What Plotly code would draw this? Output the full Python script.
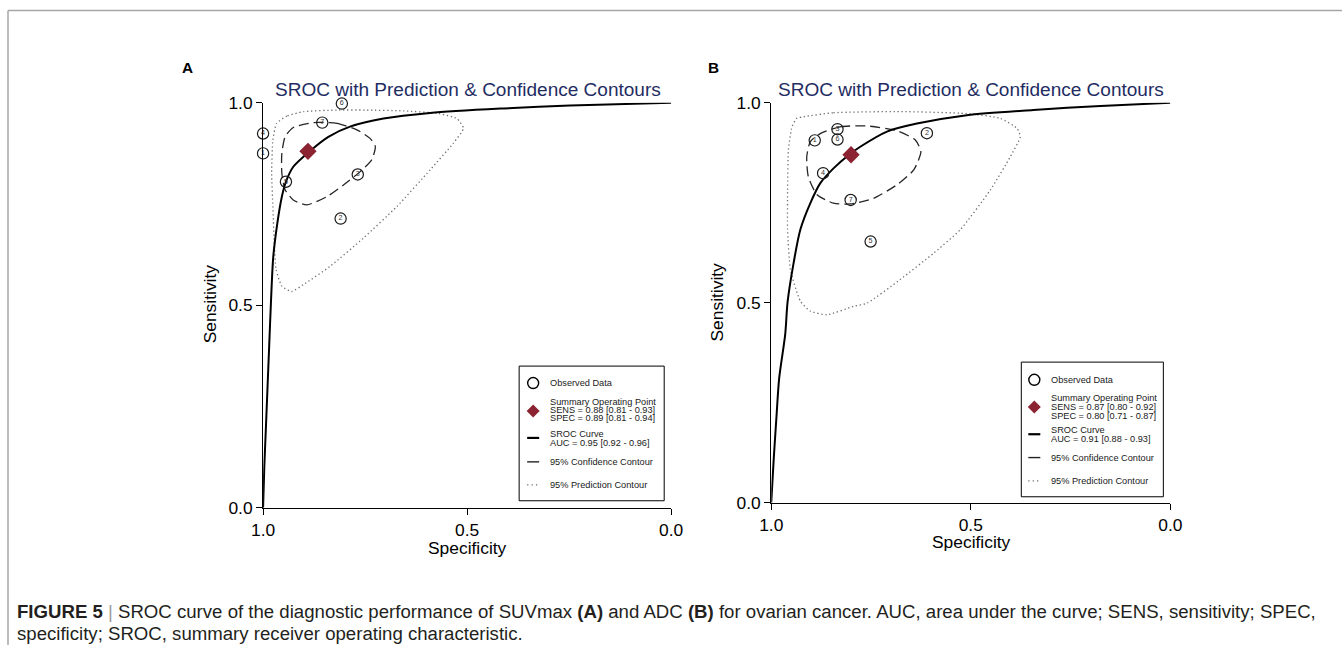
import plotly.graph_objects as go

# ---------------- DATA ----------------
# Panel A (SUVmax)
study_a = ["1", "2", "3", "4", "5", "6", "7"]
spec_a = [1.00, 0.81, 0.768, 1.00, 0.944, 0.807, 0.855]
sens_a = [0.875, 0.714, 0.823, 0.924, 0.805, 0.998, 0.951]
summary_a = {"spec": 0.89, "sens": 0.88}

sroc_a_spec = [1.0, 0.997, 0.993, 0.989, 0.985, 0.981, 0.975, 0.965, 0.954, 0.944,
               0.926, 0.885, 0.84, 0.787, 0.705, 0.591, 0.411, 0.248, 0.0]
sroc_a_sens = [0.0, 0.1, 0.2, 0.3, 0.4, 0.5, 0.62, 0.703, 0.768, 0.805,
               0.842, 0.881, 0.916, 0.941, 0.961, 0.975, 0.986, 0.993, 1.0]

conf_a_spec = [0.877, 0.819, 0.770, 0.738, 0.725, 0.734, 0.762, 0.803, 0.844, 0.893,
               0.926, 0.946, 0.954, 0.954, 0.946, 0.926, 0.877]
conf_a_sens = [0.951, 0.949, 0.933, 0.912, 0.892, 0.859, 0.830, 0.797, 0.768, 0.748,
               0.760, 0.785, 0.826, 0.875, 0.916, 0.939, 0.951]

pred_a_spec = [0.901, 0.942, 0.967, 0.976, 0.979, 0.976, 0.973, 0.968, 0.954, 0.930,
               0.901, 0.836, 0.754, 0.672, 0.591, 0.534, 0.509, 0.525, 0.574, 0.656,
               0.750, 0.819, 0.901]
pred_a_sens = [0.978, 0.967, 0.949, 0.908, 0.826, 0.744, 0.662, 0.588, 0.547, 0.534,
               0.551, 0.596, 0.666, 0.744, 0.834, 0.900, 0.937, 0.961, 0.974, 0.980,
               0.982, 0.982, 0.978]

legend_a = ["Observed Data",
            "Summary Operating Point", "SENS = 0.88 [0.81 - 0.93]", "SPEC = 0.89 [0.81 - 0.94]",
            "SROC Curve", "AUC = 0.95 [0.92 - 0.96]",
            "95% Confidence Contour", "95% Prediction Contour"]

# Panel B (ADC)
study_b = ["1", "2", "3", "4", "5", "6", "7"]
spec_b = [0.891, 0.610, 0.834, 0.870, 0.751, 0.834, 0.801]
sens_b = [0.906, 0.924, 0.934, 0.824, 0.653, 0.908, 0.757]
summary_b = {"spec": 0.80, "sens": 0.87}

sroc_b_spec = [1.0, 0.994, 0.987, 0.980, 0.965, 0.959, 0.944, 0.927, 0.902, 0.877,
               0.844, 0.805, 0.777, 0.710, 0.635, 0.510, 0.343, 0.175, 0.0]
sroc_b_sens = [0.0, 0.105, 0.213, 0.312, 0.421, 0.502, 0.599, 0.683, 0.749, 0.799,
               0.836, 0.870, 0.890, 0.928, 0.948, 0.969, 0.982, 0.992, 1.0]

conf_b_spec = [0.877, 0.827, 0.760, 0.685, 0.639, 0.625, 0.643, 0.685, 0.744, 0.802,
               0.844, 0.885, 0.907, 0.911, 0.902, 0.877]
conf_b_sens = [0.923, 0.940, 0.942, 0.930, 0.907, 0.878, 0.832, 0.795, 0.761, 0.747,
               0.749, 0.770, 0.815, 0.865, 0.903, 0.923]

pred_b_spec = [0.919, 0.844, 0.677, 0.510, 0.426, 0.384, 0.376, 0.401, 0.451, 0.526,
               0.593, 0.677, 0.760, 0.794, 0.860, 0.902, 0.927, 0.952, 0.959, 0.959,
               0.957, 0.948, 0.936, 0.919]
pred_b_sens = [0.965, 0.975, 0.978, 0.973, 0.961, 0.936, 0.915, 0.865, 0.782, 0.683,
               0.624, 0.558, 0.499, 0.491, 0.470, 0.479, 0.504, 0.583, 0.683, 0.782,
               0.882, 0.940, 0.961, 0.965]

legend_b = ["Observed Data",
            "Summary Operating Point", "SENS = 0.87 [0.80 - 0.92]", "SPEC = 0.80 [0.71 - 0.87]",
            "SROC Curve", "AUC = 0.91 [0.88 - 0.93]",
            "95% Confidence Contour", "95% Prediction Contour"]

tick_vals = [0.0, 0.5, 1.0]
tick_text = ["0.0", "0.5", "1.0"]
title_text = "SROC with Prediction & Confidence Contours"
caption_1 = ("<b>FIGURE 5</b> <span style='color:#9a9a9a'>|</span> SROC curve of the diagnostic "
             "performance of SUVmax <b>(A)</b> and ADC <b>(B)</b> for ovarian cancer. AUC, area "
             "under the curve; SENS, sensitivity; SPEC,")
caption_2 = "specificity; SROC, summary receiver operating characteristic."

# ---------------- LAYOUT HELPERS ----------------
# empirical mapping between figure pixels and the photographed page
OX, OY, SX, SY = 12.0, 8.0, 0.982, 0.972
SZ = 1 / 0.977
W, H = 1356, 657
FONT = "Liberation Sans, Arial, Helvetica, sans-serif"
NAVY = "#1f2d63"
RED = "#8b2332"


def PX(x):
    return ((x - OX) / SX) / W


def PY(y):
    return 1 - ((y - OY) / SY) / H


fig = go.Figure()


def add_panel(xa, ya, spec, sens, labels, summ, s_sp, s_se, c_sp, c_se, p_sp, p_se):
    fig.add_trace(go.Scatter(x=p_sp, y=p_se, mode="lines", xaxis=xa, yaxis=ya,
                             line=dict(color="#6e6e6e", width=1.3, dash="1.3px,2.7px",
                                       shape="spline", smoothing=0.5),
                             hoverinfo="skip", showlegend=False))
    fig.add_trace(go.Scatter(x=c_sp, y=c_se, mode="lines", xaxis=xa, yaxis=ya,
                             line=dict(color="#262626", width=1.3, dash="10px,5px",
                                       shape="spline", smoothing=0.6),
                             hoverinfo="skip", showlegend=False))
    fig.add_trace(go.Scatter(x=s_sp, y=s_se, mode="lines", xaxis=xa, yaxis=ya,
                             line=dict(color="black", width=2, shape="spline", smoothing=0.8),
                             hoverinfo="skip", showlegend=False))
    fig.add_trace(go.Scatter(x=spec, y=sens, mode="markers+text", xaxis=xa, yaxis=ya,
                             text=labels, textposition="middle center",
                             textfont=dict(size=7 * SZ, color="#333", family=FONT),
                             marker=dict(symbol="circle", size=11 * SZ,
                                         color="rgba(255,255,255,0)",
                                         line=dict(color="#1a1a1a", width=1.2)),
                             cliponaxis=False, showlegend=False))
    fig.add_trace(go.Scatter(x=[summ["spec"]], y=[summ["sens"]], mode="markers",
                             xaxis=xa, yaxis=ya,
                             marker=dict(symbol="diamond", size=13 * SZ, color=RED,
                                         line=dict(width=0)),
                             cliponaxis=False, showlegend=False))


add_panel("x", "y", spec_a, sens_a, study_a, summary_a, sroc_a_spec, sroc_a_sens,
          conf_a_spec, conf_a_sens, pred_a_spec, pred_a_sens)
add_panel("x2", "y2", spec_b, sens_b, study_b, summary_b, sroc_b_spec, sroc_b_sens,
          conf_b_spec, conf_b_sens, pred_b_spec, pred_b_sens)

axis_common = dict(showgrid=False, zeroline=False, showline=True, linecolor="black",
                   linewidth=1, ticks="outside", ticklen=6, tickwidth=1, tickcolor="black",
                   tickvals=tick_vals, ticktext=tick_text,
                   tickfont=dict(size=17 * SZ, color="black", family=FONT))

fig.update_layout(
    width=W, height=H, margin=dict(l=0, r=0, t=0, b=0),
    paper_bgcolor="white", plot_bgcolor="white", showlegend=False,
    xaxis=dict(domain=[PX(263), PX(671)], range=[1, 0], anchor="y", **axis_common),
    yaxis=dict(domain=[PY(507), PY(101)], range=[0, 1], anchor="x", **axis_common),
    xaxis2=dict(domain=[PX(771), PX(1170)], range=[1, 0], anchor="y2", **axis_common),
    yaxis2=dict(domain=[PY(502), PY(101)], range=[0, 1], anchor="x2", **axis_common),
)

annotations = []
shapes = []


def txt(x, y, s, size, color="black", xanchor="center", angle=0, font=FONT):
    annotations.append(dict(x=PX(x), y=PY(y), xref="paper", yref="paper", text=s,
                            showarrow=False, xanchor=xanchor, yanchor="middle",
                            textangle=angle,
                            font=dict(size=size * SZ, color=color, family=font)))


# frame
shapes.append(dict(type="line", xref="paper", yref="paper", x0=PX(8), y0=PY(8.5),
                   x1=1, y1=PY(8.5), line=dict(color="#a6a6a6", width=1.5)))
shapes.append(dict(type="line", xref="paper", yref="paper", x0=PX(8), y0=PY(8.5),
                   x1=PX(8), y1=0, line=dict(color="#a6a6a6", width=1.5)))

# panel labels, titles, axis titles
txt(187, 66, "<b>A</b>", 15)
txt(713, 66, "<b>B</b>", 15)
txt(468, 88, title_text, 18.6, NAVY)
txt(971, 88, title_text, 18.6, NAVY)
txt(467, 547, "Specificity", 17)
txt(971, 541, "Specificity", 17)
txt(210, 303, "Sensitivity", 17, angle=-90)
txt(717, 301, "Sensitivity", 17, angle=-90)


def legend(box, sym_x, text_x, ys, lines):
    x0, y0, x1, y1 = box
    shapes.append(dict(type="rect", xref="paper", yref="paper", x0=PX(x0), y0=PY(y0),
                       x1=PX(x1), y1=PY(y1), line=dict(color="black", width=1),
                       fillcolor="white"))
    (y_obs, y_s1, y_s2, y_s3, y_dia, y_r1, y_r2, y_rs, y_c, y_p) = ys
    shapes.append(dict(type="circle", xref="paper", yref="paper",
                       x0=PX(sym_x - 5.5), x1=PX(sym_x + 5.5),
                       y0=PY(y_obs - 5.5), y1=PY(y_obs + 5.5),
                       line=dict(color="black", width=1.4)))
    d = 6.5
    path = "M {} {} L {} {} L {} {} L {} {} Z".format(
        PX(sym_x), PY(y_dia - d), PX(sym_x + d), PY(y_dia),
        PX(sym_x), PY(y_dia + d), PX(sym_x - d), PY(y_dia))
    shapes.append(dict(type="path", xref="paper", yref="paper", path=path,
                       fillcolor=RED, line=dict(width=0)))
    shapes.append(dict(type="line", xref="paper", yref="paper", x0=PX(sym_x - 6),
                       x1=PX(sym_x + 6), y0=PY(y_rs), y1=PY(y_rs),
                       line=dict(color="black", width=2.2)))
    shapes.append(dict(type="line", xref="paper", yref="paper", x0=PX(sym_x - 6),
                       x1=PX(sym_x + 6), y0=PY(y_c), y1=PY(y_c),
                       line=dict(color="#222", width=1.4)))
    shapes.append(dict(type="line", xref="paper", yref="paper", x0=PX(sym_x - 6),
                       x1=PX(sym_x + 6), y0=PY(y_p), y1=PY(y_p),
                       line=dict(color="#666", width=1.2, dash="1.2px,3.2px")))
    y_list = [y_obs, y_s1, y_s2, y_s3, y_r1, y_r2, y_c, y_p]
    for s, yy in zip(lines, y_list):
        txt(text_x, yy, s, 9, "#1a1a1a", xanchor="left")


legend((519, 365, 664, 500), 533, 548,
       (382, 400.7, 408.7, 416.7, 410, 433.3, 442.3, 437, 461, 484), legend_a)
legend((1021, 361, 1163, 496), 1034, 1049,
       (378.7, 397.3, 406.3, 414.7, 406, 429.3, 438.3, 433.3, 456.7, 480), legend_b)

# caption
txt(14.5, 611, caption_1, 18.2, "#231f20", xanchor="left")
txt(14.5, 633, caption_2, 18.2, "#231f20", xanchor="left")

fig.update_layout(annotations=annotations, shapes=shapes)
fig.write_html("out.html")
